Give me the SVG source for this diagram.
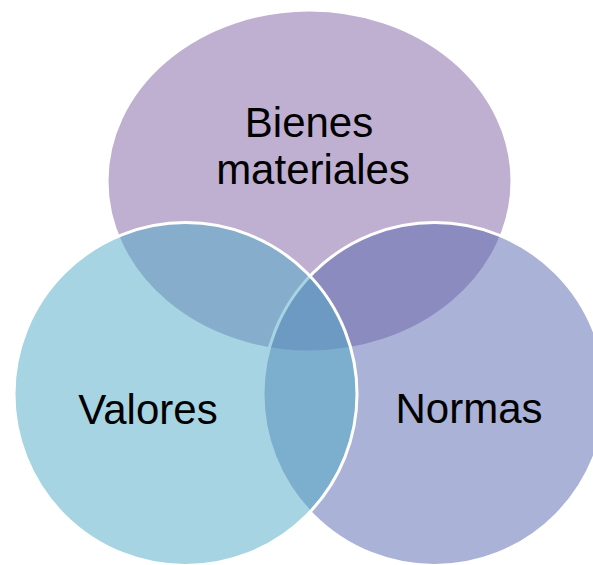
<svg xmlns="http://www.w3.org/2000/svg" width="593" height="565" viewBox="0 0 593 565">
<style>
.c{fill-opacity:0.5;stroke:#FFFFFF;stroke-width:3}
.t{font-family:"Liberation Sans",Arial,sans-serif;font-size:42px;fill:#000000;text-anchor:middle}
</style>
<rect width="593" height="565" fill="#FFFFFF"/>
<g id="bienes">
<ellipse class="c" cx="309.5" cy="181" rx="202.5" ry="171" fill="#7F61A3"/>
</g>
<g id="normas">
<circle class="c" cx="434.5" cy="394" r="171.5" fill="#5765AF"/>
</g>
<g id="valores">
<circle class="c" cx="185.5" cy="394" r="171.5" fill="#4DA9C5"/>
</g>
<g id="labels">
<text class="t" x="309" y="137">Bienes</text>
<text class="t" x="313" y="184">materiales</text>
<text class="t" x="148" y="424">Valores</text>
<text class="t" x="469" y="423">Normas</text>
</g>
<g id="connectors"/>
</svg>
